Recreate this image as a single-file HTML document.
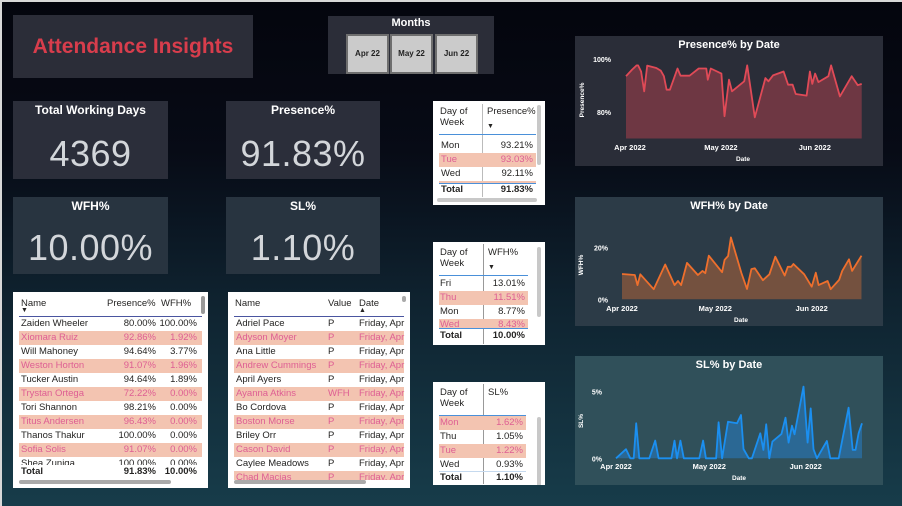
<!DOCTYPE html>
<html><head><meta charset="utf-8">
<style>
*{box-sizing:border-box;margin:0;padding:0}
body{width:902px;height:506px;overflow:hidden;font-family:"Liberation Sans",sans-serif;position:relative;background:linear-gradient(180deg,#04050d 0%,#070b16 30%,#0f2330 60%,#173c4a 100%)}
.abs{position:absolute}
.card{position:absolute;color:#fff;text-align:center}
.ktitle{font-weight:bold;font-size:12px;margin-top:2px}
.kval{font-size:36px;color:#d3d6da;margin-top:16px;letter-spacing:0.5px}
.tbl{position:absolute;background:#fff;font-size:9.5px;color:#252423;overflow:hidden}
.row{position:absolute;left:6px;height:14px;line-height:14px}
.pink{background:#f3c4b1;color:#de5e93}
.cell{position:absolute;top:0;white-space:nowrap}
.r{text-align:right}
.vs{position:absolute;background:#c8c8c8;border-radius:3px}
.btn{position:absolute;top:34px;width:43px;height:40px;background:#cbcbcb;border:2px solid #6e6e6e;font-size:8px;font-weight:bold;color:#222;text-align:center;line-height:36px}
</style></head><body>
<div class="abs" style="left:0;top:0;width:902px;height:2px;background:#d8d8d8"></div>
<div class="abs" style="left:0;top:0;width:2px;height:506px;background:#d8d8d8"></div>

<div class="abs" style="left:13px;top:15px;width:240px;height:63px;background:#2b2d38">
<div style="color:#d83d4c;font-weight:bold;font-size:21px;text-align:center;line-height:63px">Attendance Insights</div></div>

<div class="abs" style="left:328px;top:16px;width:166px;height:58px;background:#2b2d38">
<div style="color:#fff;font-weight:bold;font-size:11px;text-align:center;margin-top:1px">Months</div></div>
<div class="btn" style="left:346px">Apr 22</div>
<div class="btn" style="left:390px">May 22</div>
<div class="btn" style="left:435px">Jun 22</div>

<div class="card" style="left:13px;top:101px;width:155px;height:78px;background:#2b2e3a"><div class="ktitle">Total Working Days</div><div class="kval">4369</div></div>
<div class="card" style="left:226px;top:101px;width:154px;height:78px;background:#2b2e3a"><div class="ktitle">Presence%</div><div class="kval">91.83%</div></div>
<div class="card" style="left:13px;top:197px;width:155px;height:77px;background:#283440"><div class="ktitle">WFH%</div><div class="kval" style="margin-top:14px">10.00%</div></div>
<div class="card" style="left:226px;top:197px;width:154px;height:77px;background:#283440"><div class="ktitle">SL%</div><div class="kval" style="margin-top:14px">1.10%</div></div>

<div class="tbl" style="left:433px;top:101px;width:112px;height:104px">
<div class="cell" style="left:7px;top:5px;line-height:11px">Day of<br>Week</div>
<div class="cell" style="left:54px;top:5px">Presence%</div>
<div class="cell" style="left:54px;top:22px;font-size:7px">▼</div>
<div class="abs" style="left:49px;top:3px;width:1px;height:93px;background:#bbb"></div>
<div class="abs" style="left:6px;top:33px;width:97px;height:1px;background:#4a90d9"></div>
<div class="row" style="top:38px;width:97px"><span class="cell" style="left:2px">Mon</span><span class="cell" style="right:3px">93.21%</span></div>
<div class="row pink" style="top:52px;width:97px"><span class="cell" style="left:2px">Tue</span><span class="cell" style="right:3px">93.03%</span></div>
<div class="row" style="top:66px;width:97px"><span class="cell" style="left:2px">Wed</span><span class="cell" style="right:3px">92.11%</span></div>
<div class="abs pink" style="left:6px;top:80px;width:97px;height:2px"></div>
<div class="abs" style="left:6px;top:82px;width:97px;height:1px;background:#4a90d9"></div>
<div class="row" style="top:82px;width:97px;font-weight:bold"><span class="cell" style="left:2px">Total</span><span class="cell" style="right:3px">91.83%</span></div>
<div class="vs" style="left:104px;top:4px;width:4px;height:60px"></div>
<div class="vs" style="left:4px;top:97px;width:100px;height:4px"></div>
</div>

<div class="tbl" style="left:433px;top:242px;width:112px;height:103px">
<div class="cell" style="left:7px;top:5px;line-height:11px">Day of<br>Week</div>
<div class="cell" style="left:55px;top:5px">WFH%</div>
<div class="cell" style="left:55px;top:22px;font-size:7px">▼</div>
<div class="abs" style="left:50px;top:2px;width:1px;height:100px;background:#999"></div>
<div class="abs" style="left:6px;top:33px;width:89px;height:1px;background:#4a90d9"></div>
<div class="row" style="top:35px;width:89px"><span class="cell" style="left:1px">Fri</span><span class="cell" style="right:3px">13.01%</span></div>
<div class="row pink" style="top:49px;width:89px"><span class="cell" style="left:1px">Thu</span><span class="cell" style="right:3px">11.51%</span></div>
<div class="row" style="top:63px;width:89px"><span class="cell" style="left:1px">Mon</span><span class="cell" style="right:3px">8.77%</span></div>
<div class="row pink" style="top:77px;width:89px;height:9px;overflow:hidden;line-height:12px"><span class="cell" style="left:1px">Wed</span><span class="cell" style="right:3px">8.43%</span></div>
<div class="abs" style="left:6px;top:86px;width:89px;height:1px;background:#4a90d9"></div>
<div class="row" style="top:88px;width:89px;font-weight:bold;height:12px;line-height:12px"><span class="cell" style="left:1px">Total</span><span class="cell" style="right:3px">10.00%</span></div>
<div class="vs" style="left:104px;top:5px;width:4px;height:70px"></div>
</div>

<div class="tbl" style="left:433px;top:382px;width:112px;height:103px">
<div class="cell" style="left:7px;top:5px;line-height:11px">Day of<br>Week</div>
<div class="cell" style="left:55px;top:5px">SL%</div>
<div class="abs" style="left:50px;top:2px;width:1px;height:100px;background:#999"></div>
<div class="abs" style="left:6px;top:33px;width:87px;height:1px;background:#4a90d9"></div>
<div class="row pink" style="top:34px;width:87px"><span class="cell" style="left:1px">Mon</span><span class="cell" style="right:3px">1.62%</span></div>
<div class="row" style="top:48px;width:87px"><span class="cell" style="left:1px">Thu</span><span class="cell" style="right:3px">1.05%</span></div>
<div class="row pink" style="top:62px;width:87px"><span class="cell" style="left:1px">Tue</span><span class="cell" style="right:3px">1.22%</span></div>
<div class="row" style="top:76px;width:87px"><span class="cell" style="left:1px">Wed</span><span class="cell" style="right:3px">0.93%</span></div>
<div class="abs" style="left:6px;top:89px;width:87px;height:1px;background:#c5d9ee"></div>
<div class="row" style="top:89px;width:87px;font-weight:bold"><span class="cell" style="left:1px">Total</span><span class="cell" style="right:3px">1.10%</span></div>
<div class="vs" style="left:104px;top:35px;width:4px;height:73px"></div>
</div>

<div class="tbl" style="left:13px;top:292px;width:195px;height:196px">
<div class="cell" style="left:8px;top:6px">Name</div>
<div class="cell" style="left:8px;top:15px;font-size:7px">▼</div>
<div class="cell" style="left:94px;top:6px">Presence%</div>
<div class="cell" style="left:148px;top:6px">WFH%</div>
<div class="abs" style="left:6px;top:24px;width:183px;height:1px;background:#4a55a0"></div>
<div id="emp"></div>
<div class="abs" style="left:6px;top:174px;width:183px;height:1px;background:#2c3c9c"></div>
<div class="row" style="top:173px;width:183px;font-weight:bold;background:#fff"><span class="cell" style="left:2px">Total</span><span class="cell r" style="right:46px">91.83%</span><span class="cell r" style="right:5px">10.00%</span></div>
<div class="vs" style="left:188px;top:4px;width:4px;height:18px;background:#999"></div>
<div class="vs" style="left:6px;top:188px;width:152px;height:4px;background:#aaa"></div>
</div>

<div class="tbl" style="left:228px;top:292px;width:182px;height:196px">
<div class="cell" style="left:7px;top:6px">Name</div>
<div class="cell" style="left:100px;top:6px">Value</div>
<div class="cell" style="left:131px;top:6px">Date</div>
<div class="cell" style="left:131px;top:15px;font-size:7px">▲</div>
<div class="abs" style="left:6px;top:24px;width:170px;height:1px;background:#4a55a0"></div>
<div id="det"></div>
<div class="vs" style="left:174px;top:4px;width:4px;height:6px;background:#aaa"></div>
<div class="vs" style="left:6px;top:188px;width:132px;height:4px;background:#aaa"></div>
</div>

<svg id="charts" class="abs" style="left:0;top:0" width="902" height="506"></svg>

<script>
const empNames=["Zaiden Wheeler","Xiomara Ruiz","Will Mahoney","Weston Horton","Tucker Austin","Trystan Ortega","Tori Shannon","Titus Andersen","Thanos Thakur","Sofia Solis","Shea Zuniga"];
const empPresence=["80.00%","92.86%","94.64%","91.07%","94.64%","72.22%","98.21%","96.43%","100.00%","91.07%","100.00%"];
const empWfh=["100.00%","1.92%","3.77%","1.96%","1.89%","0.00%","0.00%","0.00%","0.00%","0.00%","0.00%"];
const detNames=["Adriel Pace","Adyson Moyer","Ana Little","Andrew Cummings","April Ayers","Ayanna Atkins","Bo Cordova","Boston Morse","Briley Orr","Cason David","Caylee Meadows","Chad Macias"];
const detValues=["P","P","P","P","P","WFH","P","P","P","P","P","P"];

const emp=document.getElementById('emp');
empNames.forEach((n,i)=>{
  const d=document.createElement('div');
  d.className='row'+(i%2?' pink':'');
  d.style.top=(25+i*14)+'px';d.style.width='183px';
  if(i==10){d.style.height='9px';d.style.overflow='hidden';}
  
  
  d.innerHTML='<span class="cell" style="left:2px">'+n+'</span><span class="cell" style="right:46px">'+empPresence[i]+'</span><span class="cell" style="right:5px">'+empWfh[i]+'</span>';
  emp.appendChild(d);
});
const det=document.getElementById('det');
detNames.forEach((n,i)=>{
  const d=document.createElement('div');
  d.className='row'+(i%2?' pink':'');
  d.style.top=(25+i*14)+'px';d.style.width='170px';
  if(i==11){d.style.height='9px';d.style.overflow='hidden';}
  
  
  d.innerHTML='<span class="cell" style="left:2px">'+n+'</span><span class="cell" style="left:94px">'+detValues[i]+'</span><span class="cell" style="left:125px">Friday, Apr</span>';
  det.appendChild(d);
});

const presDays=[0,2,3.5,4,5,6,7,10,11.5,12.5,13.4,14.5,17,18,21,24,26.5,27,28,31.5,32.5,34,35,39,40,42.5,46,47,48.5,52,53.5,55,56,59.6,60.7,61.5,62.4,63.5,66.8,67.7,70.6,74.5,76.5,77.8];
const presVals=[93.5,96,97.6,97.6,95.3,87.8,97.5,96.6,95.6,93.5,88.4,88.4,96.4,93.7,93.7,96.4,96.4,92.2,96.4,94.5,78.4,92.2,87.8,91.6,97.6,78,92.8,91.6,93.8,95.3,90.3,90.3,86.8,86.2,95.3,90.6,94.5,91.3,93.5,97.6,85.9,93.5,90.1,90.6];
const wfhDays=[0,4.1,5,5.9,10.2,13.9,16.9,18,19,20.9,24.4,25.9,26.8,27.9,32.2,33,34.1,35,38.4,40.2,41.6,42.7,45.3,47.4,49.3,52.3,53.3,54.4,55.1,58.6,61,62.3,63.2,66.1,67.1,69.8,70.8,73,74,77];
const wfhVals=[9.8,9.4,5.5,9.7,3.9,13.5,5.5,7.1,5.5,14.1,9.4,11,10.1,16.9,10.5,15.3,16.8,24,10.2,4,11.7,12,7.4,9.7,16.5,9.2,12.6,12.6,13.7,9.7,4.9,10.3,5.5,7.1,3.9,7.5,11,15.5,11,16.9];
const slDays=[0,3.2,4.6,5.7,6.5,7.5,10.7,12.6,13.7,17.8,18.8,19.6,20.7,21.8,26.8,28,28.9,32.2,33,34.1,36,38.9,40.2,41,42.7,43.7,46.4,47.4,48.3,49.3,50.3,53.2,54.5,55.5,56.6,57.4,60.3,61.6,62.6,63.5,64.6,67.8,68.9,71.6,74.8,76.1,77,78,79.1];
const slVals=[0,0.68,0,0,2.63,0,0,1.33,0,0,1.33,0,1.33,0,0,1.33,0,0,2.7,0,2.75,2.63,3.25,0.7,0,0,1.88,0.63,2.55,0,1.25,1.83,3.05,1.18,2.45,1.8,5.38,1.18,3.75,0.68,0,1.3,0,0,3.8,0.63,0.63,1.88,2.63];
const monthLabels=["Apr 2022","May 2022","Jun 2022"];
const monthDays=[0,30,61];

const svg=document.getElementById('charts');
const NS='http://www.w3.org/2000/svg';
function mk(tag,attrs,name){const e=document.createElementNS(NS,tag);for(const k in attrs)e.setAttribute(k,attrs[k]);svg.appendChild(e);return e;}
function txt(x,y,s,size,name,extra){const t=mk('text',Object.assign({x:x,y:y,fill:'#fff','font-size':size,'font-weight':'bold','font-family':'Liberation Sans, sans-serif','text-anchor':'middle'},extra||{}),name);t.textContent=s;return t;}

function chart(cfg){
  mk('rect',{x:cfg.bx,y:cfg.by,width:308,height:cfg.bh,fill:cfg.bg},cfg.id+'-background');
  txt(729,cfg.by+12,cfg.title,11,cfg.id+'-title');
  const xs=d=>cfg.x0+d*cfg.xk;
  const ys=v=>cfg.yBase+(v-cfg.vMin)*(cfg.yTop-cfg.yBase)/(cfg.vTop-cfg.vMin);
  let pts=cfg.days.map((d,i)=>xs(d).toFixed(1)+','+ys(cfg.vals[i]).toFixed(1));
  const bottom=ys(cfg.vMin);
  mk('polygon',{points:xs(cfg.days[0])+','+bottom+' '+pts.join(' ')+' '+xs(cfg.days[cfg.days.length-1])+','+bottom,fill:cfg.fill},cfg.id+'-area');
  mk('polyline',{points:pts.join(' '),fill:'none',stroke:cfg.color,'stroke-width':1.8,'stroke-linejoin':'round'},cfg.id+'-line');
  cfg.ticks.forEach((t,i)=>txt(cfg.tx,ys(t)+3,cfg.tickLabels[i],7,cfg.id+'-y-tick',{'text-anchor':'end'}));
  monthLabels.forEach((m,i)=>txt(xs(monthDays[i])+cfg.mOff,cfg.mY,m,7.5,cfg.id+'-x-tick'));
  txt(cfg.dateX,cfg.mY+11,'Date',6.5,cfg.id+'-x-title');
  const yt=txt(0,0,cfg.ytitle,6.5,cfg.id+'-y-title');
  yt.setAttribute('transform','translate('+cfg.ytx+','+cfg.yty+') rotate(-90)');
}
const presTicks=[80,100],presTickLabels=["80%","100%"];
const wfhTicks=[0,20],wfhTickLabels=["0%","20%"];
const slTicks=[0,5],slTickLabels=["0%","5%"];
chart({id:'presence-chart',title:'Presence% by Date',bx:575,by:36,bh:130,bg:'#2a2d38',x0:626,xk:3.03,vMin:70,vTop:100,yBase:138.5,yTop:59,days:presDays,vals:presVals,color:'#e04a57',fill:'#6e3743',ticks:presTicks,tickLabels:presTickLabels,tx:611,mY:150,mOff:4,dateX:743,ytitle:'Presence%',ytx:584,yty:100});
chart({id:'wfh-chart',title:'WFH% by Date',bx:575,by:197,bh:129,bg:'#2c3b47',x0:622,xk:3.11,vMin:0,vTop:20,yBase:299.3,yTop:247.7,days:wfhDays,vals:wfhVals,color:'#ee6f2d',fill:'#74513f',ticks:wfhTicks,tickLabels:wfhTickLabels,tx:608,mY:311,mOff:0,dateX:741,ytitle:'WFH%',ytx:583,yty:265});
chart({id:'sl-chart',title:'SL% by Date',bx:575,by:356,bh:129,bg:'#30505a',x0:616,xk:3.11,vMin:0,vTop:5,yBase:458.3,yTop:391.7,days:slDays,vals:slVals,color:'#1b8ff0',fill:'#2b6894',ticks:slTicks,tickLabels:slTickLabels,tx:602,mY:469,mOff:0,dateX:739,ytitle:'SL%',ytx:583,yty:421});
</script>
</body></html>
